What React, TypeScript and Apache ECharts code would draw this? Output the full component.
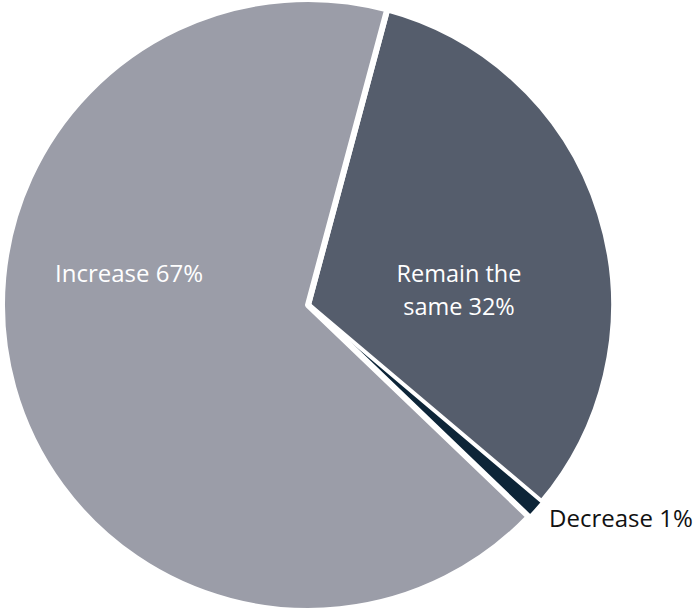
import React, { useEffect, useRef } from "react";
import * as echarts from "echarts";

const categories = ["Remain the same", "Decrease", "Increase"];
const values = [32, 1, 67];
const colors = ["#555d6c", "#0d2538", "#9b9da8"];
const borders = [6, 2, 6];
const labelTexts = ["Remain the\nsame 32%", "Decrease 1%", "Increase 67%"];

export default function App() {
  const ref = useRef<HTMLDivElement>(null);
  useEffect(() => {
    const chart = echarts.init(ref.current!, null, { renderer: "svg" });
    const font = "'Open Sans', sans-serif";
    chart.setOption({
      animation: false,
      series: [
        {
          type: "pie",
          z: 2,
          center: [308, 305],
          radius: [0, 306],
          startAngle: 75,
          clockwise: true,
          label: { show: false },
          labelLine: { show: false },
          itemStyle: { borderColor: "#ffffff", borderWidth: 6 },
          data: categories.map((c, i) => ({
            name: c,
            value: values[i],
            itemStyle: { color: colors[i], borderWidth: borders[i] },
          })),
        },
      ],
      graphic: [
        {
          type: "text",
          z: 100,
          x: 459,
          y: 289,
          style: {
            text: labelTexts[0],
            fill: "#ffffff",
            font: `23.5px ${font}`,
            align: "center",
            verticalAlign: "middle",
            lineHeight: 33,
          },
        },
        {
          type: "text",
          z: 100,
          x: 549,
          y: 517,
          style: {
            text: labelTexts[1],
            fill: "#111111",
            font: `24px ${font}`,
            align: "left",
            verticalAlign: "middle",
          },
        },
        {
          type: "text",
          z: 100,
          x: 55,
          y: 272,
          style: {
            text: labelTexts[2],
            fill: "#ffffff",
            font: `24px ${font}`,
            align: "left",
            verticalAlign: "middle",
          },
        },
      ],
    });
    return () => chart.dispose();
  }, []);
  return (
    <div
      ref={ref}
      style={{ position: "absolute", left: 0, top: 0, width: 694, height: 611 }}
    />
  );
}
